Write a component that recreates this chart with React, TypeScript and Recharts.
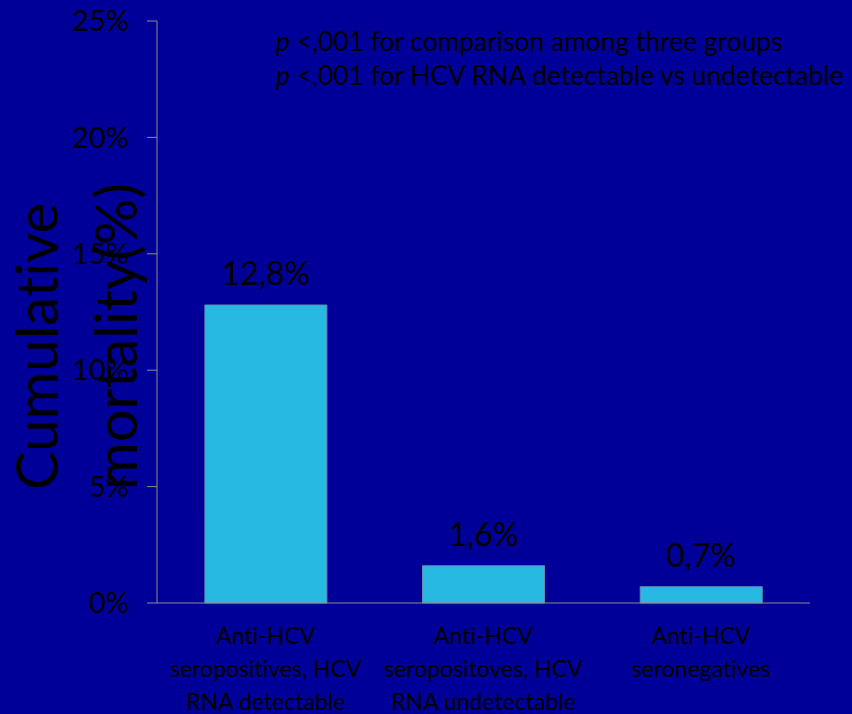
import React from "react";
import { BarChart, Bar, XAxis, YAxis, LabelList } from "recharts";

// Group labels (lines separated by "\n") and cumulative mortality in percent
const categories = [
  "Anti-HCV\nseropositives, HCV\nRNA detectable",
  "Anti-HCV\nseropositoves, HCV\nRNA undetectable",
  "Anti-HCV\nseronegatives",
];
const mortality = [12.8, 1.6, 0.7];
const valueLabels = ["12,8%", "1,6%", "0,7%"];
const yTicks = [0, 5, 10, 15, 20, 25];
const yTitleLines = ["Cumulative", "mortality(%)"];
const notes = [
  { italic: "p", rest: " <,001 for comparison among three groups" },
  { italic: "p", rest: " <,001 for HCV RNA detectable vs undetectable" },
];

const data = categories.map((name, i) => ({
  name,
  value: mortality[i],
  label: valueLabels[i],
}));

const FONT = "Lato, 'Noto Sans', sans-serif";
const BG = "#000099";
const BAR = "#27B9E2";
const noLig = { fontVariantLigatures: "none" as const };

const CategoryTick = (props: any) => {
  const { x, y, payload } = props;
  const lines = String(payload.value).split("\n");
  return (
    <g transform={`translate(${x},${y})`}>
      {lines.map((line: string, i: number) => (
        <text
          key={i}
          x={0}
          y={25 + i * 33}
          dy="0.35em"
          textAnchor="middle"
          fill="#000000"
          fontFamily={FONT}
          fontSize={23}
          style={noLig}
        >
          {line}
        </text>
      ))}
    </g>
  );
};

const YTitle = () => (
  <g>
    {yTitleLines.map((line, i) => (
      <text
        key={i}
        transform={`translate(${58 + i * 79},490) rotate(-90)`}
        textAnchor="start"
        fill="#000000"
        fontFamily={FONT}
        fontSize={58}
        style={noLig}
      >
        {line}
      </text>
    ))}
  </g>
);

export default function App() {
  return (
    <div style={{ position: "relative", width: 852, height: 714, background: BG, overflow: "hidden" }}>
      <style>{`body{margin:0;}`}</style>
      <BarChart
        width={852}
        height={714}
        data={data}
        margin={{ top: 21, right: 42, bottom: 0, left: 0 }}
        barCategoryGap="22%"
      >
        <YAxis
          width={157}
          domain={[0, 25]}
          ticks={yTicks}
          interval={0}
          tickFormatter={(v: number) => `${v}%`}
          tickSize={10}
          tickMargin={18}
          stroke="#8c8c8c"
          tick={{ fill: "#000000", fontFamily: FONT, fontSize: 29 }}
          label={{ content: () => <YTitle /> }}
        />
        <XAxis
          dataKey="name"
          height={111}
          interval={0}
          tickLine={false}
          stroke="#8c8c8c"
          tick={<CategoryTick />}
        />
        <Bar
          dataKey="value"
          fill={BAR}
          stroke="#5f8fb0"
          strokeWidth={1}
          isAnimationActive={false}
        >
          <LabelList
            dataKey="label"
            position="top"
            offset={20}
            fill="#000000"
            fontFamily={FONT}
            fontSize={32}
          />
        </Bar>
      </BarChart>
      <div
        style={{
          position: "absolute",
          left: 276,
          top: 24,
          fontFamily: FONT,
          fontSize: 26.4,
          lineHeight: "34px",
          color: "#000000",
          whiteSpace: "nowrap",
          ...noLig,
        }}
      >
        {notes.map((n, i) => (
          <div key={i}>
            <i>{n.italic}</i>
            {n.rest}
          </div>
        ))}
      </div>
    </div>
  );
}
